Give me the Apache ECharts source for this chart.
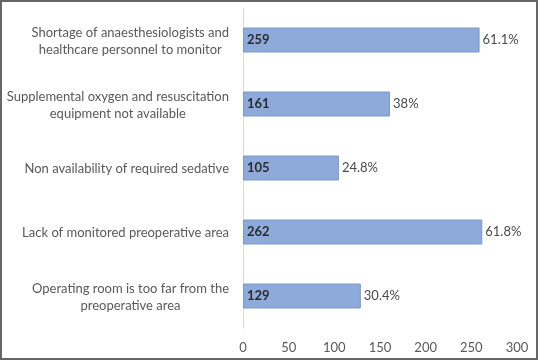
<!DOCTYPE html>
<html>
<head>
<meta charset="utf-8">
<script src="https://cdn.jsdelivr.net/npm/echarts@6/dist/echarts.min.js"></script>
<style>
  html, body { margin: 0; padding: 0; background: #fff; }
  #chart { width: 538px; height: 360px; }
</style>
</head>
<body>
<div id="chart"></div>
<script>
// reasons, top to bottom
const reasons = [
    ['Shortage of anaesthesiologists and', 'healthcare personnel to monitor'],
    ['Supplemental oxygen and resuscitation', 'equipment not available'],
    ['Non availability of required sedative'],
    ['Lack of monitored preoperative area'],
    ['Operating room is too far from the', 'preoperative area']
];
const counts = [259, 161, 105, 262, 129];
const percents = ['61.1%', '38%', '24.8%', '61.8%', '30.4%'];
const xTicks = [0, 50, 100, 150, 200, 250, 300];

const textColor = '#595959';
const fontFamily = 'Lato, "Open Sans", sans-serif';

const chart = echarts.init(document.getElementById('chart'));

chart.setOption({
    animation: false,
    textStyle: { fontFamily: fontFamily },
    grid: { left: 243, right: 21, top: 8, bottom: 32 },
    xAxis: {
        type: 'value',
        min: xTicks[0],
        max: xTicks[xTicks.length - 1],
        interval: 50,
        axisLine: { show: false },
        axisTick: { show: false },
        splitLine: { show: false },
        axisLabel: { color: textColor, fontSize: 13, margin: 13 }
    },
    yAxis: {
        type: 'category',
        inverse: true,
        data: reasons.map((_, i) => String(i)),
        axisLine: { show: true, lineStyle: { color: '#d9d9d9', width: 1 } },
        axisTick: { show: false },
        axisLabel: {
            margin: 14,
            formatter: (v) => reasons[+v].map(l => '{c|' + l + '}').join('\n'),
            rich: {
                c: { align: 'center', color: textColor, fontSize: 13, lineHeight: 17, fontFamily: fontFamily, padding: [2, 0, 0, 0] }
            }
        }
    },
    series: [
        {
            type: 'bar',
            data: counts,
            barWidth: 25,
            itemStyle: { color: '#8eaadb', borderColor: '#7d98c9', borderWidth: 1 },
            label: {
                show: true,
                position: 'insideLeft',
                distance: 4,
                fontWeight: 'bold',
                fontSize: 13,
                color: '#2b2b2b'
            },
            z: 2
        },
        {
            // transparent copy used only for the percent labels
            type: 'bar',
            data: counts,
            barWidth: 25,
            barGap: '-100%',
            itemStyle: { color: 'transparent' },
            label: {
                show: true,
                position: 'right',
                distance: 3,
                fontSize: 13,
                color: '#4a4a4a',
                formatter: (p) => percents[p.dataIndex]
            },
            silent: true,
            z: 3
        }
    ],
    graphic: [{
        type: 'rect',
        shape: { x: 1, y: 1, width: 536, height: 358 },
        style: { fill: null, stroke: '#666', lineWidth: 2 },
        silent: true
    }]
});
</script>
</body>
</html>
